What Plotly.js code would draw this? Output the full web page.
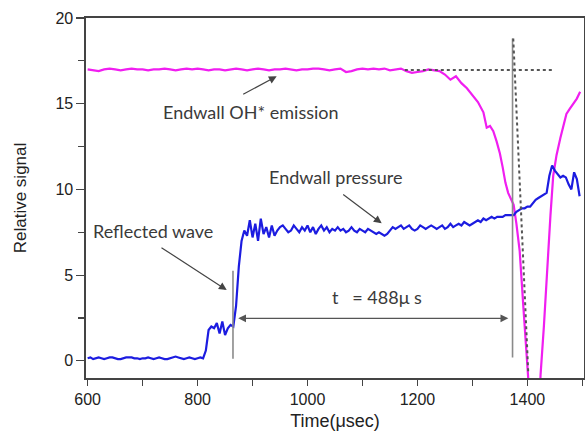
<!DOCTYPE html>
<html>
<head>
<meta charset="utf-8">
<script src="https://cdn.plot.ly/plotly-3.0.1.min.js"></script>
<style>html,body{margin:0;padding:0;background:#fff;}#chart{width:585px;height:439px;}</style>
</head>
<body>
<div id="chart"></div>
<script>
// Endwall pressure (blue)
const timePressure = [
600,605,610,615,620,625,630,635,640,645,650,655,660,665,670,675,680,685,690,695,
700,705,710,715,720,725,730,735,740,745,750,755,760,765,770,775,780,785,790,795,
800,805,810,815,820,825,830,835,840,845,850,855,860,865,870,875,880,885,890,895,
900,905,910,915,920,925,930,935,940,945,950,955,960,965,970,975,980,985,990,995,
1000,1005,1010,1015,1020,1025,1030,1035,1040,1045,1050,1055,1060,1065,1070,1075,1080,1085,1090,1095,
1100,1105,1110,1115,1120,1125,1130,1135,1140,1145,1150,1155,1160,1165,1170,1175,1180,1185,1190,1195,
1200,1205,1210,1215,1220,1225,1230,1235,1240,1245,1250,1255,1260,1265,1270,1275,1280,1285,1290,1295,
1300,1305,1310,1315,1320,1325,1330,1335,1340,1345,1350,1355,1360,1365,1370,1375,1380,1385,1390,1395,
1400,1405,1410,1415,1420,1425,1430,1435,1440,1445,1450,1455,1460,1465,1470,1475,1480,1485,1490,1495];
const pressure = [
0.15,0.2,0.1,0.15,0.2,0.15,0.1,0.15,0.2,0.2,0.15,0.1,0.1,0.15,0.2,0.2,0.2,0.15,0.15,0.1,
0.15,0.15,0.2,0.15,0.1,0.15,0.2,0.15,0.1,0.1,0.15,0.2,0.25,0.2,0.15,0.1,0.15,0.2,0.15,0.1,
0.15,0.2,0.15,0.6,1.8,2.0,1.9,2.2,1.6,2.3,1.5,1.9,2.1,2.0,3.2,5.5,7.0,7.6,7.3,8.2,
7.2,8.0,7.0,8.3,7.4,7.8,7.2,7.9,7.3,7.6,7.8,7.9,7.7,7.5,7.6,7.9,7.7,7.5,7.8,7.6,
7.9,7.5,7.8,7.4,7.7,7.9,7.6,7.8,7.5,7.7,7.6,7.8,7.6,7.7,7.5,7.6,7.8,7.6,7.5,7.7,
7.6,7.5,7.7,7.6,7.5,7.4,7.5,7.4,7.3,7.4,7.6,7.8,7.7,7.8,7.9,7.7,7.8,7.9,7.7,7.6,
7.7,7.9,7.8,7.7,7.8,7.9,7.8,7.7,7.8,7.9,7.7,7.8,8.0,7.8,7.9,8.0,7.9,8.1,8.0,7.9,
8.0,8.1,8.2,8.1,8.3,8.2,8.3,8.4,8.3,8.4,8.4,8.4,8.5,8.5,8.5,8.5,8.7,8.8,8.9,8.9,
9.0,9.0,9.2,9.4,9.5,9.6,9.7,9.8,10.8,11.4,11.1,10.9,10.7,10.8,10.7,10.3,10.0,11.0,10.6,9.6];

// Endwall OH* emission (magenta)
const timeEmission = [
600,610,620,630,640,650,660,670,680,690,700,710,720,730,740,750,760,770,780,790,
800,810,820,830,840,850,860,870,880,890,900,910,920,930,940,950,960,970,980,990,
1000,1010,1020,1030,1040,1050,1060,1070,1080,1090,1100,1110,1120,1130,1140,1150,1160,1170,1180,1190,
1200,1210,1220,1230,1240,1250,1260,1270,1280,1290,1300,1310,1320,1326,1332,1338,1344,1350,1355,1360,
1365,1370,1375,1380,1386,1393,1401,1410,1418,1424,1430,1436,1442,1447,1453,1460,1466,1471,1477,1483,
1490,1496];
const emission = [
17.0,16.95,16.9,17.0,17.05,17.0,16.95,17.0,17.05,17.0,17.0,16.95,17.0,17.0,17.05,17.0,16.95,17.0,17.05,17.0,
17.05,17.0,16.95,17.0,17.0,16.95,17.0,17.05,17.0,16.95,17.0,17.05,17.0,16.95,17.0,17.0,17.05,17.0,16.95,17.0,
17.0,17.05,17.05,17.0,16.95,17.0,17.05,16.85,16.9,17.0,17.05,17.0,17.05,17.0,17.05,16.95,17.0,17.05,16.9,16.8,
16.85,16.9,17.0,16.95,16.9,16.7,16.4,16.6,16.2,15.9,15.5,15.1,14.5,13.6,13.7,13.4,12.8,12.1,11.3,10.4,
9.8,9.4,9.1,8.0,6.4,3.0,-0.8,-5,-5,-0.8,2.0,5.5,8.5,10.8,12.0,13.0,13.8,14.4,14.7,15.0,
15.3,15.7];

const xTickVals = [600,800,1000,1200,1400];
const yTickVals = [0,5,10,15,20];

const traces = [
  {x: timeEmission, y: emission, type:'scatter', mode:'lines',
   line:{color:'#f01ef0', width:2.2}, hoverinfo:'skip'},
  {x: timePressure, y: pressure, type:'scatter', mode:'lines',
   line:{color:'#1c1ce0', width:2.2}, hoverinfo:'skip'}
];

const annFont = {family:'Lato, Open Sans, sans-serif', size:18, color:'#3a3a3a'};
const arrowCommon = {showarrow:true, text:'', xref:'x', yref:'y', axref:'x', ayref:'y',
  arrowhead:2, arrowsize:1.3, arrowwidth:1.2, arrowcolor:'#444', standoff:0, startstandoff:0};
const axisFont = 'Liberation Sans, Arial, sans-serif';

const layout = {
  width:585, height:439,
  margin:{l:86, r:1, t:18, b:61},
  paper_bgcolor:'#fff', plot_bgcolor:'#fff',
  showlegend:false,
  font:{family:axisFont, color:'#222'},
  xaxis:{range:[597,1503], tickvals:xTickVals, ticks:'outside', ticklen:6, tickwidth:1.2, tickcolor:'#444',
    minor:{dtick:100, tick0:600, ticks:'outside', ticklen:6, tickwidth:1.2, tickcolor:'#444'},
    showgrid:false, zeroline:false, showline:true, linecolor:'#444', linewidth:1.6, mirror:true,
    tickfont:{family:axisFont, size:16, color:'#222'},
    title:{text:'Time(μsec)', font:{family:axisFont, size:18, color:'#222'}, standoff:7}},
  yaxis:{range:[-1,20], tickvals:yTickVals, ticks:'outside', ticklen:8, tickwidth:1.2, tickcolor:'#444',
    minor:{dtick:2.5, tick0:0, ticks:'outside', ticklen:6, tickwidth:1.2, tickcolor:'#444'},
    showgrid:false, zeroline:false, showline:true, linecolor:'#444', linewidth:1.6, mirror:true,
    tickfont:{family:axisFont, size:16, color:'#222'},
    title:{text:'Relative signal', font:{family:axisFont, size:17, color:'#222'}, standoff:24}},
  shapes:[
    {type:'line', xref:'x', yref:'y', x0:864.4, x1:864.4, y0:5.25, y1:0.12, line:{color:'#8a8a8a', width:1.6}},
    {type:'line', xref:'x', yref:'y', x0:1373, x1:1373, y0:18.8, y1:0.2, line:{color:'#8a8a8a', width:1.6}},
    {type:'line', xref:'x', yref:'y', x0:1374.3, x1:1401.6, y0:18.8, y1:-0.68, line:{color:'#555', width:2, dash:'dot'}},
    {type:'line', xref:'x', yref:'y', x0:1177, x1:1446.5, y0:16.96, y1:16.96, line:{color:'#555', width:2, dash:'dot'}}
  ],
  annotations:[
    Object.assign({}, arrowCommon, {x:943.9, y:16.6, ax:880.3, ay:15.5}),
    Object.assign({}, arrowCommon, {x:1134.9, y:8.02, ax:1062.2, ay:9.77}),
    Object.assign({}, arrowCommon, {x:853, y:4.13, ax:731.6, ay:6.66}),
    Object.assign({}, arrowCommon, {x:1365.3, y:2.48, ax:871.2, ay:2.48, arrowside:'end+start', arrowcolor:'#555'}),
    {x:897.2, y:14.52, xref:'x', yref:'y', text:'Endwall OH* emission', showarrow:false, font:annFont},
    {x:1050, y:10.74, xref:'x', yref:'y', text:'Endwall pressure', showarrow:false, font:annFont},
    {x:719.5, y:7.57, xref:'x', yref:'y', text:'Reflected wave', showarrow:false, font:annFont},
    {x:1125.9, y:3.74, xref:'x', yref:'y', text:'t &nbsp; = 488μ s', showarrow:false, font:annFont}
  ]
};

Plotly.newPlot('chart', traces, layout, {staticPlot:true, displayModeBar:false});
</script>
</body>
</html>
